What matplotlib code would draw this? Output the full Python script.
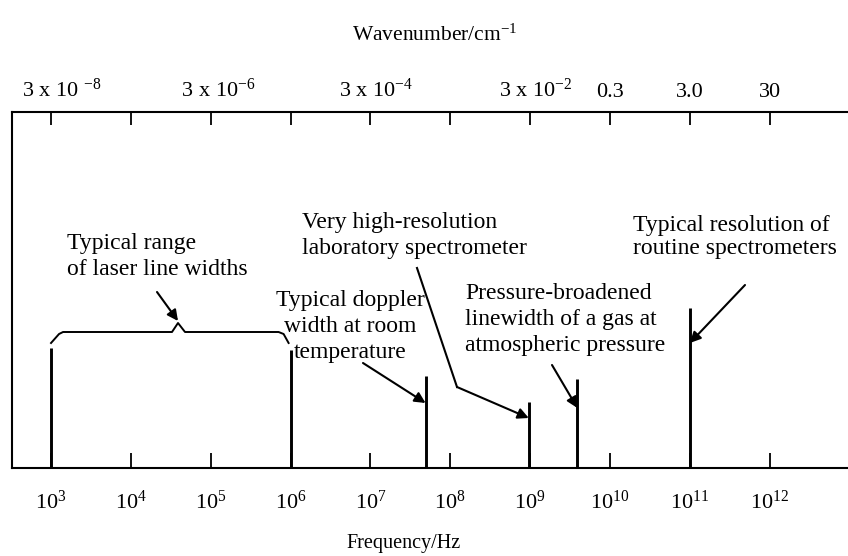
import numpy as np
import matplotlib.pyplot as plt

plt.rcParams['font.family'] = ['Liberation Serif', 'DejaVu Serif']
plt.rcParams['mathtext.fontset'] = 'custom'
plt.rcParams['mathtext.rm'] = 'Liberation Serif'
plt.rcParams['mathtext.it'] = 'Liberation Serif:italic'
plt.rcParams['mathtext.bf'] = 'Liberation Serif:bold'

# frequency axis (Hz), one tick per decade
freq_powers = list(range(3, 13))
freq_ticks = [10.0 ** p for p in freq_powers]
freq_labels = [r'10$^{\mathregular{%d}}$' % p for p in freq_powers]

# wavenumber axis (cm^-1), labels placed at the matching frequency decades
wn_tick_freqs = [1e3, 1e5, 1e7, 1e9, 1e10, 1e11, 1e12]
wn_labels = [r'    3 x 10 $^{\mathregular{-8}}$', r'   3 x 10$^{\mathregular{-6}}$',
             r'  3 x 10$^{\mathregular{-4}}$', r'  3 x 10$^{\mathregular{-2}}$',
             '0.3', '3.0', '30']

# marked line widths (frequency, relative bar height)
laser_range = [1e3, 1e6]
laser_heights = [0.337, 0.331]
doppler_freq, doppler_height = 4.9e7, 0.258
highres_freq, highres_height = 9.6e8, 0.185
pressure_freq, pressure_height = 3.9e9, 0.250
routine_freq, routine_height = 1e11, 0.449

line_freqs = laser_range + [doppler_freq, highres_freq, pressure_freq, routine_freq]
line_heights = laser_heights + [doppler_height, highres_height, pressure_height, routine_height]

W, H = 848, 556
fig = plt.figure(figsize=(W / 100, H / 100), dpi=100)
x0, x1, y0, y1 = 11.5, 848, 112, 468   # axes box in pixels
ax = fig.add_axes([x0 / W, 1 - y1 / H, (x1 - x0) / W, (y1 - y0) / H])


def fx(px):
    return (px - x0) / (x1 - x0)


def fy(py):
    return (y1 - py) / (y1 - y0)


ax.set_xscale('log')
ax.set_xlim(10 ** 2.505, 10 ** 12.98)
ax.set_ylim(0, 1)
ax.vlines(line_freqs, 0, line_heights, color='black', lw=2.1)

ax.set_xticks(freq_ticks, freq_labels)
ax.minorticks_off()
ax.set_yticks([])
ax.tick_params(axis='x', direction='in', length=10.5, width=1.3, pad=16.5, labelsize=16)
for s in ['left', 'top', 'bottom']:
    ax.spines[s].set_linewidth(1.5)
ax.spines['right'].set_visible(False)
ax.set_xlabel('Frequency/Hz', fontsize=14.5)
ax.xaxis.set_label_coords(fx(404), fy(534))

axt = ax.twiny()
axt.set_xscale('log')
axt.set_xlim(ax.get_xlim())
wn_map = dict(zip(wn_tick_freqs, wn_labels))
axt.set_xticks(freq_ticks, [wn_map.get(f, '') for f in freq_ticks])
axt.minorticks_off()
axt.tick_params(axis='x', direction='in', length=9.5, width=1.3, pad=7, labelsize=16)
for s in axt.spines.values():
    s.set_visible(False)
axt.set_xlabel(r'Wavenumber/cm$^{\mathregular{-1}}$', fontsize=15.5)
axt.xaxis.set_label_coords(fx(435), fy(41))

# bracket over the laser range
lo, hi = np.log10(laser_range)
mid = lo + 0.53 * (hi - lo)
dpx = 1 / 79.8
bx = 10 ** np.array([lo, lo + 8 * dpx, lo + 12 * dpx, mid - 6 * dpx, mid,
                     mid + 7 * dpx, hi - 12 * dpx, hi - 7 * dpx, hi - 2 * dpx])
by = [fy(343), fy(334), fy(332), fy(332), fy(323), fy(332), fy(332), fy(334), fy(343)]
ax.plot(bx, by, color='black', lw=1.4)

arrow = dict(arrowstyle='-|>', color='black', lw=1.5, mutation_scale=16,
             shrinkA=0, shrinkB=0)
txt = dict(fontsize=17, transform=ax.transAxes, va='top', linespacing=1.3)

ax.text(fx(67), fy(233), 'Typical range\nof laser line widths', **txt)
ax.annotate('', xy=(10 ** mid, fy(321)), xytext=(fx(157), fy(292)),
            textcoords='axes fraction', arrowprops=arrow)

ax.text(fx(350), fy(290), 'Typical doppler\nwidth at room\ntemperature',
        ha='center', multialignment='center', **txt)
ax.annotate('', xy=(doppler_freq, fy(403)), xytext=(fx(363), fy(363)),
            textcoords='axes fraction', arrowprops=arrow)

ax.text(fx(302), fy(212), 'Very high-resolution\nlaboratory spectrometer', **txt)
ax.plot([fx(417), fx(457)], [fy(268), fy(387)], color='black', lw=1.5,
        transform=ax.transAxes)
ax.annotate('', xy=(highres_freq, fy(418)), xytext=(fx(457), fy(387)),
            textcoords='axes fraction', arrowprops=arrow)

ax.text(fx(465), fy(283), 'Pressure-broadened\nlinewidth of a gas at\natmospheric pressure', **txt)
ax.annotate('', xy=(pressure_freq, fy(408)), xytext=(fx(552), fy(365)),
            textcoords='axes fraction', arrowprops=arrow)

ax.text(fx(633), fy(215), 'Typical resolution of\nroutine spectrometers',
        **{**txt, 'linespacing': 1.15})
ax.annotate('', xy=(routine_freq, fy(343)), xytext=(fx(745), fy(285)),
            textcoords='axes fraction', arrowprops=arrow)

fig.savefig('out.png', dpi=100)
